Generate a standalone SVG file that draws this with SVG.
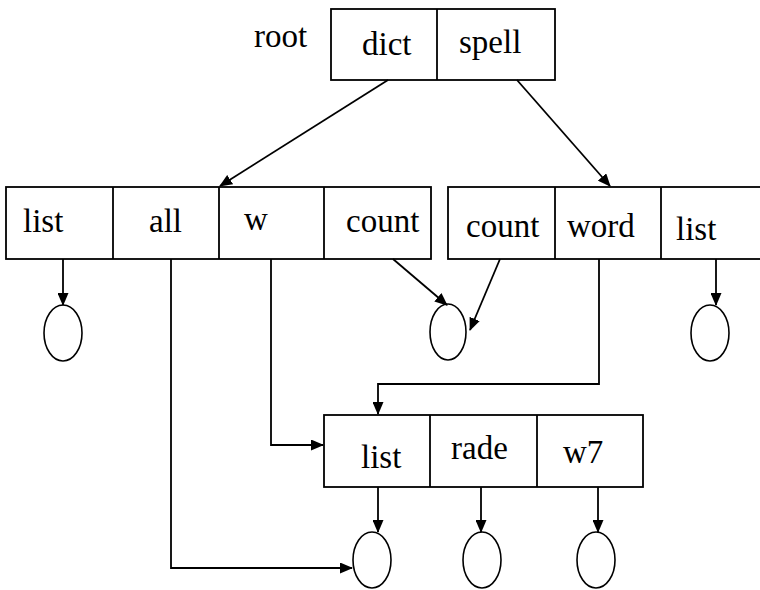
<svg xmlns="http://www.w3.org/2000/svg" width="760" height="590" viewBox="0 0 760 590">
<defs>
<style>
.box{fill:#fff;stroke:#000;stroke-width:1.8}
.div{stroke:#000;stroke-width:1.8}
.t{font-family:"Liberation Serif","Times New Roman",serif;font-size:33px;fill:#000}
.c{fill:none;stroke:#000;stroke-width:1.6}
.e{fill:none;stroke:#000;stroke-width:1.8;marker-end:url(#ah)}
</style>
<marker id="ah" markerWidth="13" markerHeight="11" refX="12" refY="5.5" orient="auto" markerUnits="userSpaceOnUse">
<path d="M0,0 L13,5.5 L0,11 z" fill="#000"/>
</marker>
</defs>
<rect width="760" height="590" fill="#fff"/>
<text class="t" x="254" y="47">root</text>
<g id="root">
<rect class="box" x="331" y="9" width="224" height="71"/>
<line class="div" x1="437" y1="9" x2="437" y2="80"/>
<text class="t" x="362" y="55">dict</text>
<text class="t" x="459" y="53">spell</text>
</g>
<g id="dict">
<rect class="box" x="6" y="187" width="425" height="72"/>
<line class="div" x1="113" y1="187" x2="113" y2="259"/>
<line class="div" x1="219" y1="187" x2="219" y2="259"/>
<line class="div" x1="324" y1="187" x2="324" y2="259"/>
<text class="t" x="23" y="232">list</text>
<text class="t" x="149" y="232">all</text>
<text class="t" x="244" y="230">w</text>
<text class="t" x="346" y="232">count</text>
</g>
<g id="spell">
<rect class="box" x="448" y="187" width="320" height="72"/>
<line class="div" x1="555" y1="187" x2="555" y2="259"/>
<line class="div" x1="661" y1="187" x2="661" y2="259"/>
<text class="t" x="466" y="237">count</text>
<text class="t" x="567" y="237">word</text>
<text class="t" x="676" y="240">list</text>
</g>
<g id="words">
<rect class="box" x="324" y="415" width="319" height="72"/>
<line class="div" x1="430" y1="415" x2="430" y2="487"/>
<line class="div" x1="537" y1="415" x2="537" y2="487"/>
<text class="t" x="361" y="468">list</text>
<text class="t" x="451" y="459">rade</text>
<text class="t" x="563" y="463">w7</text>
</g>
<g id="n1"><ellipse class="c" cx="63" cy="333" rx="19" ry="28"/></g>
<g id="n2"><ellipse class="c" cx="448" cy="332" rx="18" ry="28"/></g>
<g id="n3"><ellipse class="c" cx="710" cy="333" rx="19" ry="28"/></g>
<g id="n4"><ellipse class="c" cx="372" cy="560" rx="19" ry="28"/></g>
<g id="n5"><ellipse class="c" cx="482" cy="560" rx="19" ry="28"/></g>
<g id="n6"><ellipse class="c" cx="596" cy="560" rx="19" ry="28"/></g>
<g id="connectors">
<line class="e" x1="388" y1="80" x2="220" y2="186"/>
<line class="e" x1="517" y1="80" x2="610" y2="186"/>
<line class="e" x1="63" y1="259" x2="63" y2="305"/>
<line class="e" x1="393" y1="259" x2="447" y2="305"/>
<line class="e" x1="500" y1="259" x2="470" y2="330"/>
<line class="e" x1="716" y1="259" x2="716" y2="305"/>
<polyline class="e" points="171,259 171,568 352,568"/>
<polyline class="e" points="271,259 271,445 323,445"/>
<polyline class="e" points="599,259 599,384 378,384 378,414"/>
<line class="e" x1="378" y1="487" x2="378" y2="532"/>
<line class="e" x1="481" y1="487" x2="481" y2="532"/>
<line class="e" x1="598" y1="487" x2="598" y2="532"/>
</g>
</svg>
